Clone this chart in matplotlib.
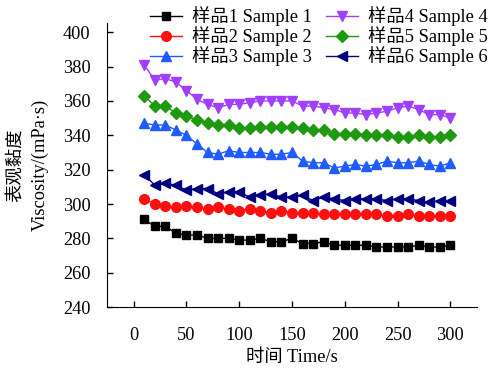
import matplotlib
matplotlib.use("Agg")
import matplotlib.pyplot as plt

plt.rcParams['font.family'] = ['Liberation Serif', 'Noto Sans CJK SC']
plt.rcParams['font.size'] = 13.2

time_s = [10, 20, 30, 40, 50, 60, 70, 80, 90, 100, 110, 120, 130, 140, 150,
          160, 170, 180, 190, 200, 210, 220, 230, 240, 250, 260, 270, 280, 290, 300]

sample1 = [291, 287, 287, 283, 282, 282, 280, 280, 280, 279, 279, 280, 278, 278, 280,
           277, 277, 278, 276, 276, 276, 276, 275, 275, 275, 275, 276, 275, 275, 276]
sample2 = [303, 300, 299, 298, 299, 298, 297, 298, 297, 296, 297, 296, 295, 296, 295,
           295, 295, 294, 294, 294, 294, 294, 294, 293, 293, 294, 293, 293, 293, 293]
sample3 = [347, 346, 346, 343, 340, 335, 330, 329, 331, 330, 330, 330, 329, 329, 330,
           325, 324, 324, 321, 322, 323, 322, 323, 325, 324, 324, 325, 323, 322, 324]
sample4 = [381, 372, 373, 371, 366, 361, 358, 356, 358, 358, 359, 360, 360, 360, 360,
           357, 357, 356, 355, 353, 353, 352, 353, 354, 356, 357, 355, 352, 352, 350]
sample5 = [363, 357, 357, 353, 351, 349, 347, 346, 346, 344, 344, 345, 345, 345, 345,
           344, 343, 343, 341, 341, 341, 340, 340, 340, 339, 339, 340, 339, 339, 340]
sample6 = [317, 311, 312, 311, 308, 309, 309, 306, 307, 307, 304, 305, 306, 304, 304,
           305, 302, 304, 303, 302, 303, 303, 303, 302, 303, 303, 302, 301, 302, 302]

labels = ['样品1 Sample 1', '样品2 Sample 2', '样品3 Sample 3',
          '样品4 Sample 4', '样品5 Sample 5', '样品6 Sample 6']
series = [sample1, sample2, sample3, sample4, sample5, sample6]
colors = ['black', '#ff1010', '#1f5bff', '#a040ff', '#1f9a10', '#000080']
markers = ['s', 'o', '^', 'v', 'D', '<']
msizes = [6, 7, 7.5, 7.5, 6.5, 7.5]

fig = plt.figure(figsize=(4.91, 3.70), dpi=100)
ax = fig.add_axes([0.2185, 0.170, 0.7525, 0.7685])

for y, lab, c, m, ms in zip(series, labels, colors, markers, msizes):
    ax.plot(time_s, y, color=c, marker=m, markersize=ms, linewidth=1.0, label=lab)

ax.set_xlim(-25, 325)
ax.set_ylim(240, 405.5)
ax.set_xticks([0, 50, 100, 150, 200, 250, 300])
ax.set_yticks(range(240, 401, 20))
ax.tick_params(direction='in', length=4, width=1, labelsize=13.2)
ax.tick_params(axis='x', pad=14)
ax.tick_params(axis='y', pad=12)
ax.spines['top'].set_visible(False)
ax.spines['right'].set_visible(False)

ax.set_xlabel('时间 Time/s', labelpad=4)
ax.set_ylabel('表观黏度\nViscosity/(mPa·s)', labelpad=10, linespacing=1.5)

leg = ax.legend(ncol=2, frameon=False, fontsize=13.2, loc='upper left',
                bbox_to_anchor=(0.115, 1.057), labelspacing=0.0,
                handlelength=1.75, handletextpad=0.55, columnspacing=0.75,
                borderpad=0.0, borderaxespad=0.0)

fig.savefig('out.png', dpi=100)
